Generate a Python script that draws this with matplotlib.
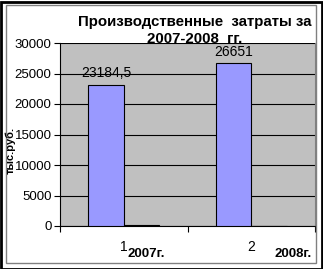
import matplotlib.pyplot as plt
from matplotlib.patches import Rectangle

plt.rcParams['font.family'] = ['Liberation Sans', 'DejaVu Sans']

# data
categories = ['1', '2']
zatraty = [23184.5, 26651]      # main series, тыс. руб.
second = [150, 0]               # barely visible second series
value_labels = ['23184,5', '26651']
year_labels = ['2007г.', '2008г.']

W, H = 323, 269
fig = plt.figure(figsize=(W / 100, H / 100), dpi=100)
fig.patch.set_facecolor('white')

# outer frame (black) and inner grey frame
fig.patches.append(Rectangle((0.5 / W, 0.5 / H), 1 - 2 / W, 1 - 2 / H, transform=fig.transFigure,
                             fill=False, edgecolor='black', linewidth=2))
fig.patches.append(Rectangle((6 / W, 1 - 263 / H), 310 / W, 258 / H, transform=fig.transFigure,
                             fill=False, edgecolor='#808080', linewidth=1))

ax = fig.add_axes([60 / W, 1 - 226 / H, 255 / W, 183 / H])
ax.set_facecolor('#C0C0C0')

x = list(range(len(categories)))
w = 0.28
ax.bar([i - w / 2 for i in x], zatraty, width=w, color='#9999FF', edgecolor='black', linewidth=0.8, zorder=3)
ax.bar([i + w / 2 for i in x], second, width=w, color='black', edgecolor='black', linewidth=0.8, zorder=3)

for i, v in enumerate(zatraty):
    ax.text(i - w / 2, v + 700, value_labels[i], ha='center', va='bottom', fontsize=10, zorder=4)

ax.set_xlim(-0.5, 1.5)
ax.set_ylim(0, 30000)
ax.set_yticks(range(0, 30001, 5000))
ax.yaxis.grid(True, color='black', linewidth=0.8, zorder=1)
ax.set_axisbelow(True)

ax.set_xticks(x)
ax.set_xticklabels(categories, fontsize=10)
ax.tick_params(axis='x', which='major', length=0, pad=10)
ax.set_xticks([-0.5, 0.5, 1.5], minor=True)
ax.tick_params(axis='x', which='minor', length=4, width=0.8, direction='out')
ax.tick_params(axis='y', length=4, width=0.8, labelsize=9.5, pad=2)

ax.spines['top'].set_visible(False)
ax.spines['right'].set_color('#808080')
ax.spines['left'].set_linewidth(0.8)
ax.spines['bottom'].set_linewidth(0.8)

fig.text(195 / W, 1 - 22 / H, 'Производственные  затраты за', ha='center', va='center',
         fontsize=10.8, fontweight='bold')
fig.text(195 / W, 1 - 39 / H, '2007-2008  гг.', ha='center', va='center',
         fontsize=10.8, fontweight='bold')

fig.text(10.5 / W, 1 - 150 / H, 'тыс.руб.', rotation=90, ha='center', va='center',
         fontsize=8, fontweight='bold')

fig.text(146 / W, 1 - 254 / H, year_labels[0], ha='center', va='center', fontsize=9.5, fontweight='bold')
fig.text(293 / W, 1 - 254 / H, year_labels[1], ha='center', va='center', fontsize=9.5, fontweight='bold')

fig.savefig('out.png', dpi=100)
